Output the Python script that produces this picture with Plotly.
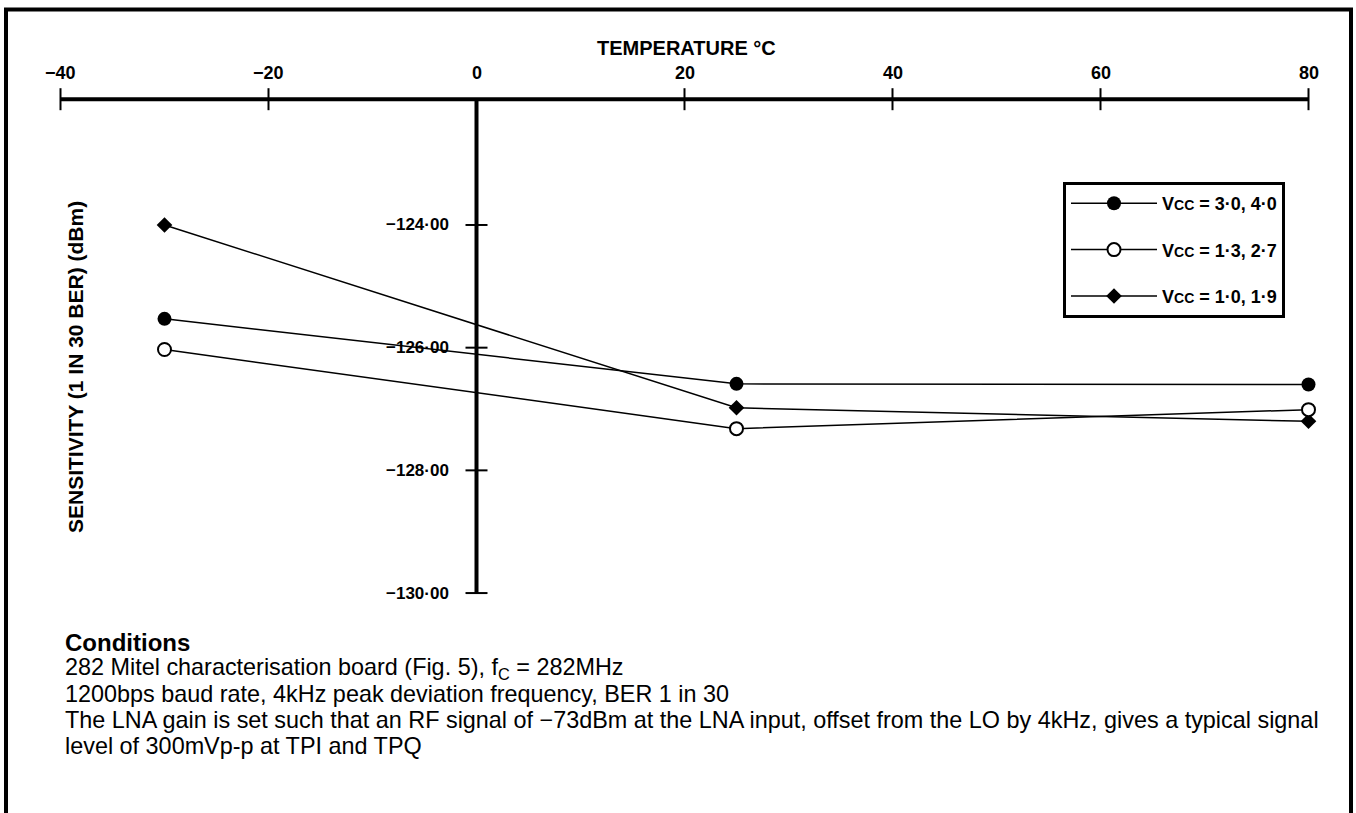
import plotly.graph_objects as go

# ---------------- data ----------------
TEMPS = [-30, 25, 80]
SENS_VCC_30_40 = [-125.53, -126.59, -126.60]
SENS_VCC_13_27 = [-126.03, -127.32, -127.01]
SENS_VCC_10_19 = [-124.00, -126.98, -127.20]
SERIES_NAMES = [
    "V<span style='font-size:14px'>CC</span> = 3·0, 4·0",
    "V<span style='font-size:14px'>CC</span> = 1·3, 2·7",
    "V<span style='font-size:14px'>CC</span> = 1·0, 1·9",
]
X_TICKS = [-40, -20, 0, 20, 40, 60, 80]
X_TICK_LABELS = ["\u221240", "\u221220", "0", "20", "40", "60", "80"]
Y_TICKS = [-124, -126, -128, -130]
Y_TICK_LABELS = ["\u2212124·00", "\u2212126·00", "\u2212128·00", "\u2212130·00"]
X_TITLE = "TEMPERATURE °C"
Y_TITLE = "SENSITIVITY (1 IN 30 BER) (dBm)"
CONDITIONS = [
    "<b>Conditions</b>",
    "282 Mitel characterisation board (Fig. 5), f<sub>C</sub> = 282MHz",
    "1200bps baud rate, 4kHz peak deviation frequency, BER 1 in 30",
    "The LNA gain is set such that an RF signal of \u221273dBm at the LNA input, offset from the LO by 4kHz, gives a typical signal",
    "level of 300mVp-p at TPI and TPQ",
]
AXIS_CROSS_X = 0          # the sensitivity axis crosses at 0 °C
AXIS_CROSS_Y = -121.95    # the temperature axis is drawn above the data

# ---------------- figure ----------------
W, H = 1356, 813
FONT = "Liberation Sans, Arial, Helvetica, sans-serif"
X_RANGE = [-45.817, 84.567]
Y_RANGE = [-133.585, -120.333]

fig = go.Figure()

fig.add_trace(go.Scatter(
    x=TEMPS, y=SENS_VCC_30_40, name=SERIES_NAMES[0], mode="lines+markers",
    line=dict(color="black", width=1.5),
    marker=dict(symbol="circle", size=14, color="black"),
    legendgroup="a", legendrank=1))
fig.add_trace(go.Scatter(
    x=TEMPS, y=SENS_VCC_10_19, name=SERIES_NAMES[2], mode="lines+markers",
    line=dict(color="black", width=1.5),
    marker=dict(symbol="diamond", size=12, color="black"),
    legendgroup="c", legendrank=3))
fig.add_trace(go.Scatter(
    x=TEMPS, y=SENS_VCC_13_27, name=SERIES_NAMES[1], mode="lines+markers",
    line=dict(color="black", width=1.5),
    marker=dict(symbol="circle", size=13, color="white",
                line=dict(color="black", width=2)),
    legendgroup="b", legendrank=2))

shapes = []
# outer frame (open at the bottom, as in the reference)
shapes.append(dict(type="rect", xref="paper", yref="paper",
                   x0=6 / W, x1=1351 / W, y0=-0.1, y1=1 - 9.5 / H,
                   line=dict(color="black", width=4), layer="below"))
# temperature axis
shapes.append(dict(type="line", xref="x", yref="y",
                   x0=X_TICKS[0], x1=X_TICKS[-1], y0=AXIS_CROSS_Y, y1=AXIS_CROSS_Y,
                   line=dict(color="black", width=4), layer="below"))
for xv in X_TICKS:
    if xv == AXIS_CROSS_X:
        continue
    shapes.append(dict(type="line", xref="x", yref="y", ysizemode="pixel",
                       yanchor=AXIS_CROSS_Y, x0=xv, x1=xv, y0=-11, y1=11,
                       line=dict(color="black", width=2), layer="below"))
# sensitivity axis
shapes.append(dict(type="line", xref="x", yref="y",
                   x0=AXIS_CROSS_X, x1=AXIS_CROSS_X, y0=AXIS_CROSS_Y, y1=Y_TICKS[-1],
                   line=dict(color="black", width=4), layer="below"))
for yv in Y_TICKS:
    shapes.append(dict(type="line", xref="x", yref="y", xsizemode="pixel",
                       xanchor=AXIS_CROSS_X, x0=-11, x1=11, y0=yv, y1=yv,
                       line=dict(color="black", width=2), layer="below"))

annotations = []
for xv, lab in zip(X_TICKS, X_TICK_LABELS):
    annotations.append(dict(x=xv, y=AXIS_CROSS_Y, xref="x", yref="y", text=f"<b>{lab}</b>",
                            showarrow=False, yshift=26, xanchor="center", yanchor="middle",
                            font=dict(size=18, family=FONT, color="black")))
for yv, lab in zip(Y_TICKS, Y_TICK_LABELS):
    annotations.append(dict(x=AXIS_CROSS_X, y=yv, xref="x", yref="y", text=f"<b>{lab}</b>",
                            showarrow=False, xshift=-26, xanchor="right", yanchor="middle",
                            font=dict(size=17, family=FONT, color="black")))
annotations.append(dict(x=687 / W, y=1 - 48 / H, xref="paper", yref="paper",
                        text=f"<b>{X_TITLE}</b>", showarrow=False,
                        xanchor="center", yanchor="middle",
                        font=dict(size=20, family=FONT, color="black")))
annotations.append(dict(x=75 / W, y=1 - 367 / H, xref="paper", yref="paper",
                        text=f"<b>{Y_TITLE}</b>", showarrow=False, textangle=-90,
                        xanchor="center", yanchor="middle",
                        font=dict(size=21, family=FONT, color="black")))
cond_y = [642, 668, 694, 720, 746]
for i, (line, yy) in enumerate(zip(CONDITIONS, cond_y)):
    annotations.append(dict(x=63 / W, y=1 - yy / H, xref="paper", yref="paper",
                            text=line, showarrow=False, xanchor="left", yanchor="middle",
                            font=dict(size=24 if i == 0 else 23.4, family=FONT, color="black")))

fig.update_layout(
    width=W, height=H, autosize=False,
    margin=dict(l=0, r=0, t=0, b=0, pad=0),
    paper_bgcolor="white", plot_bgcolor="white",
    xaxis=dict(range=X_RANGE, visible=False, fixedrange=True),
    yaxis=dict(range=Y_RANGE, visible=False, fixedrange=True),
    shapes=shapes, annotations=annotations,
    showlegend=True,
    legend=dict(x=1063 / W, y=1 - 182 / H, xanchor="left", yanchor="top",
                bgcolor="white", bordercolor="black", borderwidth=3,
                font=dict(size=18, family=FONT, color="black", weight="bold"),
                itemwidth=86, tracegroupgap=20, traceorder="grouped"),
)

fig.write_html("out.html", config={"displayModeBar": False},
               post_script="document.body.style.margin='0';")
